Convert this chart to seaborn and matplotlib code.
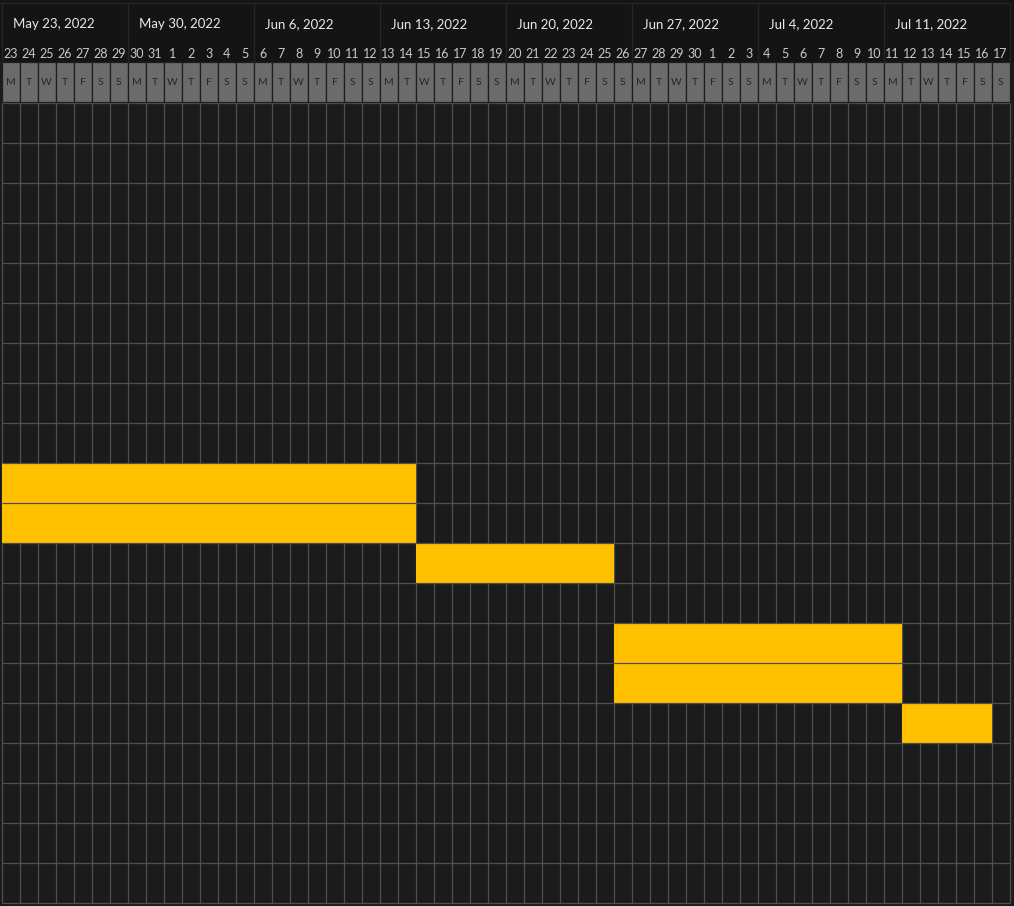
import numpy as np
import pandas as pd
import matplotlib
matplotlib.use("Agg")
import matplotlib.pyplot as plt
import seaborn as sns
from matplotlib.colors import ListedColormap
from matplotlib.patches import Rectangle

sns.set_theme(style="dark")
plt.rcParams['font.family'] = ['Lato', 'DejaVu Sans']

# ---- data ----
start_date = "2022-05-23"
n_days = 56
n_rows = 20
bar_rows = [9, 10, 11, 13, 14, 15]
bar_starts = ["2022-05-23", "2022-05-23", "2022-06-15", "2022-06-26", "2022-06-26", "2022-07-12"]
bar_ends = ["2022-06-14", "2022-06-14", "2022-06-25", "2022-07-11", "2022-07-11", "2022-07-16"]
weekday_letters = ["M", "T", "W", "T", "F", "S", "S"]

# ---- colours ----
BG = "#1b1b1b"
HEADER_BG = "#141414"
GRID = "#505050"
GOLD = "#FFC000"
BOX = "#6b6b6b"
BOX_EDGE = "#1e1e1e"

days = pd.date_range(start_date, periods=n_days, freq="D")
origin = days[0]

mat = np.zeros((n_rows, n_days))
for r, s, e in zip(bar_rows, bar_starts, bar_ends):
    si = (pd.Timestamp(s) - origin).days
    ei = (pd.Timestamp(e) - origin).days
    mat[r, si:ei + 1] = 1
mask = mat == 0

fig = plt.figure(figsize=(10.14, 9.06), dpi=100)
fig.patch.set_facecolor(BG)
ax = fig.add_axes([0, 0, 1, 1])
ax.set_facecolor(BG)

# vertical grid lines (under bars)
for x in range(n_days + 1):
    ax.plot([x, x], [0, n_rows], color=GRID, lw=0.9, zorder=0.5, solid_capstyle="butt")

sns.heatmap(mat, mask=mask, cmap=ListedColormap([BG, GOLD]), vmin=0, vmax=1,
            cbar=False, linewidths=0, ax=ax, zorder=1)

# horizontal grid lines (over bars)
for y in range(n_rows + 1):
    ax.plot([0, n_days], [y, y], color=GRID, lw=0.9, zorder=2, solid_capstyle="butt")

xl = (0 - 1.7) / 18
xr = (1014 - 1.7) / 18
yt = (0 - 103) / 40
yb = (906 - 103) / 40

# header background
ax.add_patch(Rectangle((xl, yt), xr - xl, -1.025 - yt, facecolor=HEADER_BG, edgecolor="none", zorder=0.6))
ax.plot([xl, n_days], [(3 - 103) / 40] * 2, color="#262626", lw=0.9, zorder=0.7)
for w in range(0, n_days + 1, 7):
    ax.plot([w, w], [(3 - 103) / 40, -1.025], color="#262626", lw=0.9, zorder=0.7)

# day boxes
for i, d in enumerate(days):
    ax.add_patch(Rectangle((i, -1.025), 1, 1.0, facecolor=BOX, edgecolor=BOX_EDGE, lw=0.9, zorder=3))
    letter = weekday_letters[d.weekday()]
    col = "#2e1f33" if letter == "T" else "#262626"
    ax.text(i + 0.5, -0.52, letter, ha="center", va="center", fontsize=7.5, color=col, zorder=4)
    ax.text(i + 0.5, -1.23, str(d.day), ha="center", va="center", fontsize=9, color="#c8c8c8", zorder=4)

for w in range(0, n_days, 7):
    d = days[w]
    label = f"{d.strftime('%b')} {d.day}, {d.year}"
    ax.text(w + 0.62, -1.98, label, ha="left", va="center", fontsize=9.5, color="#e8e8e8", zorder=4)

ax.set_xlim(xl, xr)
ax.set_ylim(yb, yt)
ax.axis("off")

fig.savefig("out.png", dpi=100, facecolor=BG)
